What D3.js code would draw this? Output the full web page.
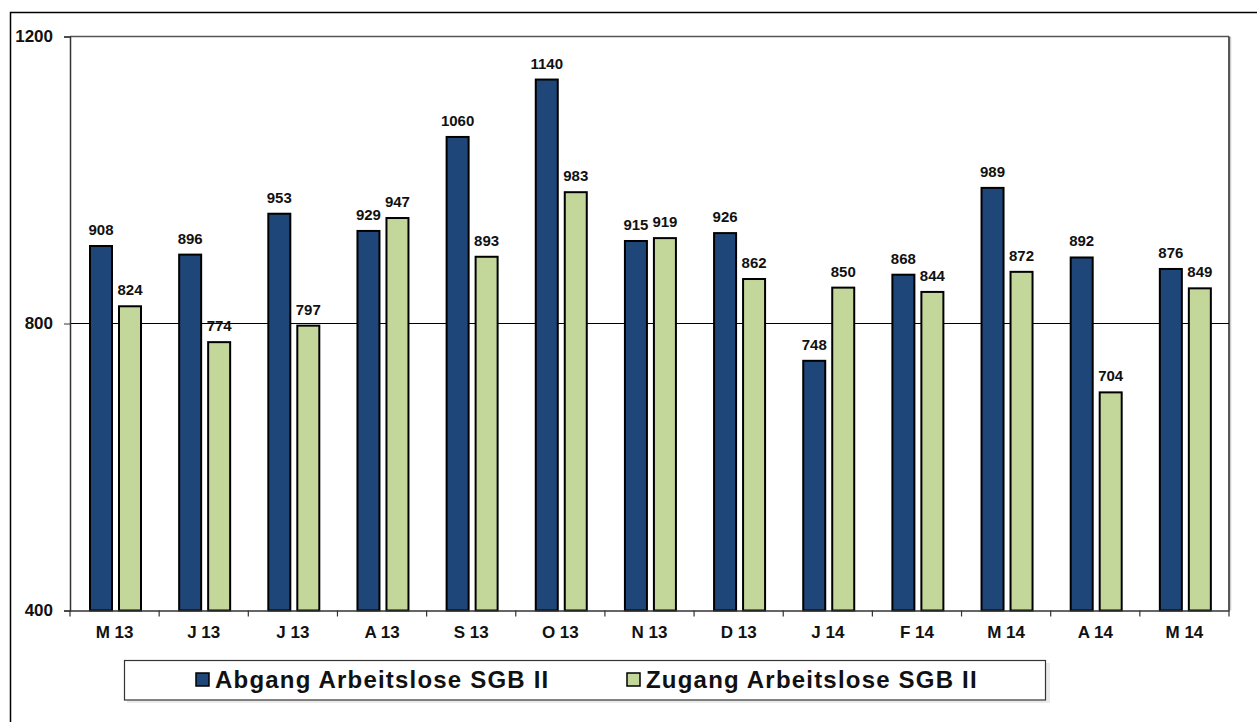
<!DOCTYPE html>
<html><head><meta charset="utf-8">
<script src="https://cdn.jsdelivr.net/npm/d3@7"></script>
<style>body{margin:0;background:#fff}svg{display:block}text{font-family:Arial,"Liberation Sans",sans-serif;font-weight:bold}</style>
</head><body>
<svg id="c" width="1257" height="722"></svg>
<script>
const categories = ["M 13","J 13","J 13","A 13","S 13","O 13","N 13","D 13","J 14","F 14","M 14","A 14","M 14"];
const abgang = [908,896,953,929,1060,1140,915,926,748,868,989,892,876];
const zugang = [824,774,797,947,893,983,919,862,850,844,872,704,849];
const seriesNames = ["Abgang Arbeitslose SGB II","Zugang Arbeitslose SGB II"];
const seriesColors = ["#1f4678","#c4d79b"];
const yTicks = [400,800,1200];

const svg = d3.select("#c");
const L=70, R=1229, T=36.5, B=610.5;
svg.append("rect").attr("x",10.5).attr("y",12.5).attr("width",1260).attr("height",730).attr("fill","none").attr("stroke","#000").attr("stroke-width",1.5);

const x = d3.scaleBand().domain(d3.range(categories.length)).range([L,R]).padding(0);
const y = d3.scaleLinear().domain([400,1200]).range([B,T]);
const g = svg.append("g");

g.append("line").attr("x1",L).attr("x2",R).attr("y1",T).attr("y2",T).attr("stroke","#555").attr("stroke-width",1.5);
g.append("line").attr("x1",R+1.5).attr("x2",R+1.5).attr("y1",T).attr("y2",B).attr("stroke","#ccc").attr("stroke-width",1.5);
g.append("line").attr("x1",R).attr("x2",R).attr("y1",T).attr("y2",B).attr("stroke","#222").attr("stroke-width",1.5);
g.append("line").attr("x1",L).attr("x2",R).attr("y1",y(800)).attr("y2",y(800)).attr("stroke","#000").attr("stroke-width",1);

const bw = 22, gap = 7, off = 20;
const bars = [abgang, zugang];
bars.forEach((arr,si)=>{
  g.selectAll(null).data(arr).enter().append("rect")
    .attr("x",(d,i)=>x(i)+off+si*(bw+gap))
    .attr("y",d=>y(d)).attr("width",bw).attr("height",d=>B-y(d))
    .attr("fill",seriesColors[si]).attr("stroke","#000").attr("stroke-width",2);
  g.selectAll(null).data(arr).enter().append("text")
    .attr("x",(d,i)=>x(i)+off+si*(bw+gap)+bw/2)
    .attr("y",d=>y(d)-11).attr("text-anchor","middle").attr("font-size",15).attr("fill","#111")
    .text(d=>d);
});

const ya = d3.axisLeft(y).tickValues(yTicks).tickSize(6).tickFormat(d3.format("d"));
const yg = svg.append("g").attr("transform",`translate(${L},0)`).call(ya);
yg.select(".domain").attr("stroke","#333").attr("stroke-width",1.5);
yg.selectAll(".tick line").attr("stroke","#333");
yg.selectAll(".tick text").attr("font-size",17).attr("fill","#111").attr("x",-17).attr("font-family","Arial, 'Liberation Sans', sans-serif").attr("font-weight","bold");

const xa = d3.axisBottom(x).tickFormat(i=>categories[i]).tickSize(0);
const xg = svg.append("g").attr("transform",`translate(0,${B})`).call(xa);
xg.select(".domain").attr("stroke","#333").attr("stroke-width",1.5);
xg.selectAll(".tick text").attr("font-size",17).attr("fill","#111").attr("y",27).attr("dy",0).attr("font-family","Arial, 'Liberation Sans', sans-serif").attr("font-weight","bold");
xg.selectAll(null).data(d3.range(categories.length+1)).enter().append("line")
  .attr("x1",i=>L+i*x.step()).attr("x2",i=>L+i*x.step()).attr("y1",0).attr("y2",6).attr("stroke","#333").attr("stroke-width",1.2);

const lg = svg.append("g");
lg.append("rect").attr("x",127).attr("y",663).attr("width",923).attr("height",40).attr("fill","#ddd").attr("opacity",0.6);
lg.append("rect").attr("x",124.5).attr("y",660.5).attr("width",921).attr("height",39.5).attr("fill","#fff").attr("stroke","#333").attr("stroke-width",1.2);
const lx = [196,627];
seriesNames.forEach((n,i)=>{
  lg.append("rect").attr("x",lx[i]).attr("y",673).attr("width",13).attr("height",13).attr("fill",seriesColors[i]).attr("stroke","#000").attr("stroke-width",1.5);
  lg.append("text").attr("x",lx[i]+19).attr("y",688).attr("font-size",24).attr("letter-spacing",1.2).attr("fill","#111").text(n);
});
</script>
</body></html>
